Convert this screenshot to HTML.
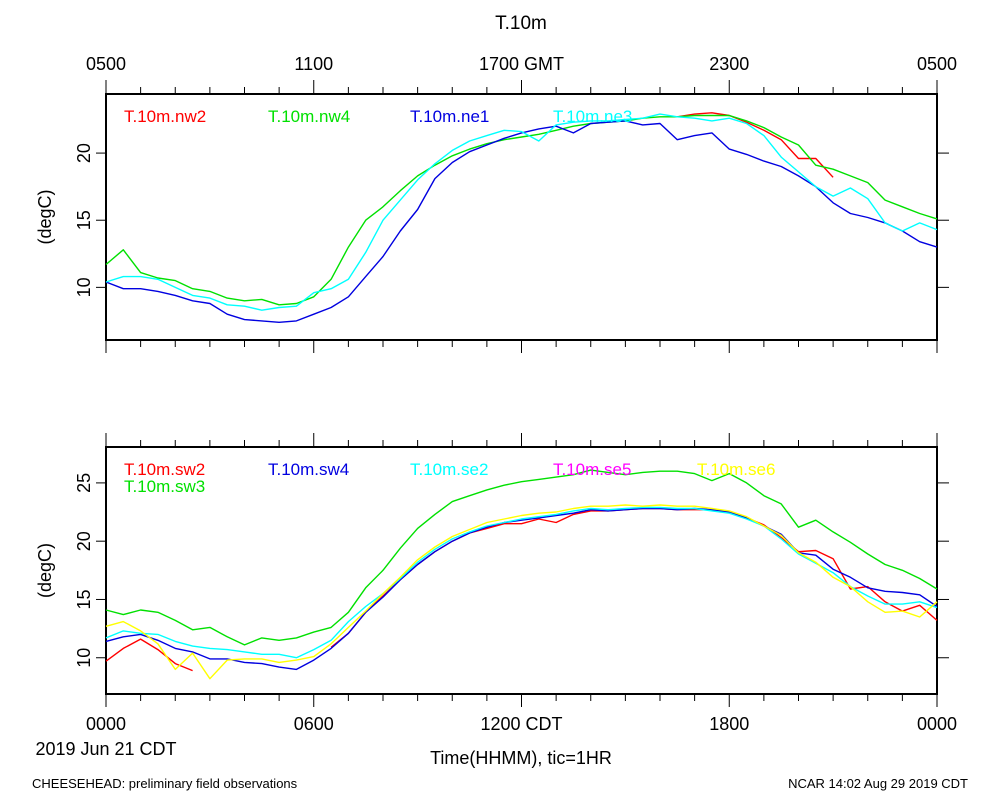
<!DOCTYPE html>
<html><head><meta charset="utf-8"><style>
html,body{margin:0;padding:0;background:#fff;}
svg{display:block;font-family:"Liberation Sans",sans-serif;}
</style></head><body>
<svg id="chart" width="1000" height="800" viewBox="0 0 1000 800" xmlns="http://www.w3.org/2000/svg">
<text x="521" y="29" font-size="19" text-anchor="middle">T.10m</text>
<g id="top"></g>
<g id="bot"></g>
<text x="106" y="755" font-size="18" text-anchor="middle">2019 Jun 21 CDT</text>
<text x="521" y="764" font-size="18" text-anchor="middle">Time(HHMM), tic=1HR</text>
<text x="32" y="788" font-size="13">CHEESEHEAD: preliminary field observations</text>
<text x="968" y="788" font-size="13" text-anchor="end">NCAR 14:02 Aug 29 2019 CDT</text>
</svg>
<script>
const hours = [];
for (let i = 0; i <= 48; i++) hours.push(i * 0.5);
const topTickLabels = ["0500","1100","1700 GMT","2300","0500"];
const botTickLabels = ["0000","0600","1200 CDT","1800","0000"];
const topYTicks = [10,15,20];
const botYTicks = [10,15,20,25];
const topNames = ["T.10m.nw2","T.10m.nw4","T.10m.ne1","T.10m.ne3"];
const botNames = ["T.10m.sw2","T.10m.sw3","T.10m.sw4","T.10m.se2","T.10m.se5","T.10m.se6"];
const N=null;
const nw2 = [N,N,N,N,N,N,N,N,N,N,N,N,N,N,N,N,N,N,N,N,N,N,N,N,N,N,N,N,N,N,N,N,N,22.7,22.9,23.0,22.8,22.3,21.7,21.0,19.6,19.6,18.2,N,N,N,N,N,N];
const nw4 = [11.7,12.8,11.1,10.7,10.5,9.9,9.7,9.2,9.0,9.1,8.7,8.8,9.3,10.6,13.0,15.0,16.0,17.2,18.3,19.1,19.8,20.3,20.7,21.0,21.2,21.4,21.7,22.0,22.2,22.3,22.4,22.6,22.7,22.7,22.8,22.8,22.8,22.4,21.9,21.2,20.6,19.1,18.8,18.3,17.8,16.5,16.0,15.5,15.1];
const ne1 = [10.4,9.9,9.9,9.7,9.4,9.0,8.8,8.0,7.6,7.5,7.4,7.5,8.0,8.5,9.3,10.8,12.3,14.2,15.8,18.1,19.3,20.1,20.6,21.1,21.5,21.8,22.0,21.5,22.2,22.3,22.4,22.1,22.2,21.0,21.3,21.5,20.3,19.9,19.4,19.0,18.3,17.5,16.3,15.5,15.2,14.8,14.2,13.4,13.0];
const ne3 = [10.4,10.8,10.8,10.6,10.0,9.4,9.2,8.7,8.6,8.3,8.5,8.6,9.6,9.9,10.6,12.6,15.0,16.5,18.0,19.2,20.2,20.9,21.3,21.7,21.6,20.9,22.1,22.3,22.4,22.4,22.5,22.6,22.9,22.7,22.6,22.4,22.6,22.2,21.3,19.7,18.6,17.5,16.8,17.4,16.6,14.8,14.2,14.8,14.3];
const sw2 = [9.7,10.8,11.6,10.7,9.5,8.9,N,N,N,N,N,N,N,10.9,12.1,13.9,15.3,16.7,18.0,19.1,20.0,20.7,21.1,21.5,21.5,21.9,21.6,22.3,22.6,22.6,22.7,22.8,22.8,22.7,22.7,22.7,22.5,22.0,21.4,20.3,19.1,19.2,18.5,15.9,16.1,14.8,14.0,14.5,13.2];
const sw3 = [14.1,13.7,14.1,13.9,13.2,12.4,12.6,11.8,11.1,11.7,11.5,11.7,12.2,12.6,13.9,16.0,17.5,19.4,21.1,22.3,23.4,23.9,24.4,24.8,25.1,25.3,25.5,25.7,26.1,25.9,25.7,25.9,26.0,26.0,25.8,25.2,25.8,25.0,23.9,23.2,21.2,21.8,20.8,19.9,18.9,18.0,17.5,16.8,15.9];
const sw4 = [11.4,11.8,12.0,11.5,10.8,10.5,9.9,9.9,9.6,9.5,9.2,9.0,9.8,10.8,12.1,13.9,15.2,16.7,18.0,19.1,20.0,20.7,21.2,21.6,21.8,22.0,22.2,22.4,22.7,22.6,22.7,22.8,22.8,22.7,22.8,22.7,22.5,22.0,21.3,20.6,19.0,18.8,17.6,16.9,16.0,15.7,15.6,15.4,14.4];
const se2 = [11.7,12.3,12.1,12.0,11.4,11.0,10.8,10.7,10.5,10.3,10.3,10.0,10.7,11.5,13.1,14.4,15.5,16.8,18.2,19.3,20.2,20.8,21.3,21.6,21.9,22.1,22.3,22.6,22.8,22.7,22.8,22.9,22.9,22.8,22.8,22.6,22.4,21.9,21.3,20.2,18.9,18.1,17.3,16.1,15.3,14.6,14.6,14.8,14.3];
const se5 = [N,N,N,N,N,N,N,N,N,N,N,N,N,N,N,N,N,N,N,N,N,N,N,N,N,N,N,N,N,N,N,N,N,N,N,N,N,N,N,N,N,N,N,N,N,N,N,N,N];
const se6 = [12.7,13.1,12.3,11.2,9.0,10.4,8.2,9.8,9.9,9.9,9.6,9.8,10.1,11.2,12.6,14.0,15.5,16.9,18.4,19.5,20.4,21.0,21.6,21.9,22.2,22.4,22.5,22.8,23.0,23.0,23.1,23.0,23.1,23.0,23.0,22.8,22.6,22.1,21.3,20.5,19.0,18.2,16.9,16.1,14.8,13.9,14.0,13.5,14.8];

const NS="http://www.w3.org/2000/svg";
const X0=106,X1=937;
function xs(h){return X0+(X1-X0)*h/24;}
function mk(tag,attrs,parent){const e=document.createElementNS(NS,tag);for(const k in attrs)e.setAttribute(k,attrs[k]);parent.appendChild(e);return e;}

function panel(g,y0,y1,ymin,ymax,yticks,topLabels,botLabels,series,colors,names,legendPos){
  const ys=v=>y1-(v-ymin)/(ymax-ymin)*(y1-y0);
  const frame=mk('rect',{x:X0,y:y0,width:X1-X0,height:y1-y0,fill:'none',stroke:'#000','stroke-width':2},g);
  
  
  for(let h=0;h<=24;h++){
    const maj=h%6===0;
    const t1=mk('line',{x1:xs(h),x2:xs(h),y1:y0,y2:y0-(maj?14:7),stroke:'#000','stroke-width':1},g);
    
    
    const t2=mk('line',{x1:xs(h),x2:xs(h),y1:y1,y2:y1+(maj?13:7),stroke:'#000','stroke-width':1},g);
    
    
  }
  yticks.forEach(v=>{
    const y=ys(v);
    const a=mk('line',{x1:X0-10,x2:X0,y1:y,y2:y,stroke:'#000','stroke-width':1},g);
    
    
    const b=mk('line',{x1:X1,x2:X1+12,y1:y,y2:y,stroke:'#000','stroke-width':1},g);
    
    
    const t=mk('text',{x:0,y:0,'font-size':18,'text-anchor':'middle',transform:`translate(${X0-16},${y}) rotate(-90)`},g);
    
    
    t.textContent=v;
  });
  const yl=mk('text',{x:0,y:0,'font-size':18,'text-anchor':'middle',transform:`translate(51,${(y0+y1)/2}) rotate(-90)`},g);
  
  
  yl.textContent='(degC)';
  if(topLabels) topLabels.forEach((s,i)=>{
    const t=mk('text',{x:xs(i*6),y:70,'font-size':18,'text-anchor':'middle'},g);
    
    
    t.textContent=s;
  });
  if(botLabels) botLabels.forEach((s,i)=>{
    const t=mk('text',{x:xs(i*6),y:730,'font-size':18,'text-anchor':'middle'},g);
    
    
    t.textContent=s;
  });
  series.forEach((vals,si)=>{
    let d='',pen=false;
    vals.forEach((v,i)=>{
      if(v===null){pen=false;return;}
      d+=(pen?'L':'M')+xs(hours[i]).toFixed(1)+' '+ys(v).toFixed(1)+' ';pen=true;
    });
    if(d){
      const p=mk('path',{d:d,fill:'none',stroke:colors[si],'stroke-width':1.4,'stroke-linejoin':'round'},g);
      
      
    }
  });
  names.forEach((n,i)=>{
    const lp=legendPos[i];
    const t=mk('text',{x:lp[0],y:lp[1],'font-size':17,fill:colors[i]},g);
    
    
    t.textContent=n;
  });
}
panel(document.getElementById('top'),94,340,6.08,24.4,topYTicks,topTickLabels,null,
  [nw2,nw4,ne1,ne3],['#ff0000','#00e000','#0000e0','#00ffff'],topNames,
  [[124,122],[268,122],[410,122],[553,122]]);
panel(document.getElementById('bot'),447,694,6.89,28.08,botYTicks,null,botTickLabels,
  [sw2,sw3,sw4,se2,se5,se6],['#ff0000','#00e000','#0000e0','#00ffff','#ff00ff','#ffff00'],botNames,
  [[124,475],[124,492],[268,475],[410,475],[553,475],[697,475]]);
</script>
</body></html>
